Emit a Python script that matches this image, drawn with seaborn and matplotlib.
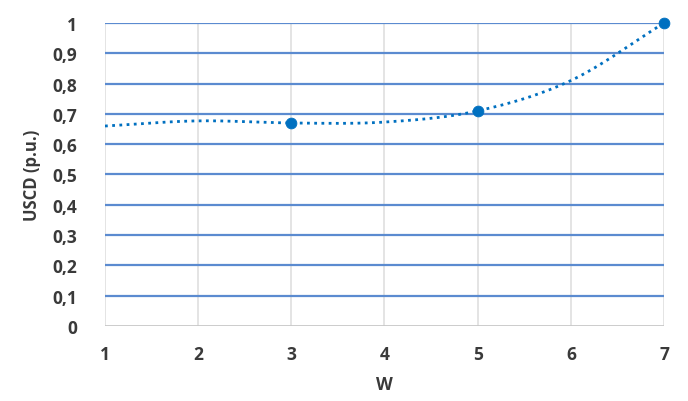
import numpy as np
import pandas as pd
import matplotlib
matplotlib.use("Agg")
import matplotlib.pyplot as plt
from matplotlib.ticker import FuncFormatter
import seaborn as sns

# values (smoothed line through all W, markers at 3, 5, 7)
w_values = [1, 2, 3, 4, 5, 6, 7]
uscd_values = [0.66, 0.677, 0.67, 0.673, 0.71, 0.81, 1.0]
marker_w = [3, 5, 7]
marker_uscd = [0.67, 0.71, 1.0]
y_ticks = [0, 0.1, 0.2, 0.3, 0.4, 0.5, 0.6, 0.7, 0.8, 0.9, 1.0]

LINE_BLUE = "#0070C0"
GRID_BLUE = "#5B8BD0"
TEXT = "#3A3A3A"


def smooth(xs, ys, n=30):
    ''' Catmull-Rom style smoothing like a spreadsheet "smoothed line". '''
    xs = np.asarray(xs, float)
    ys = np.asarray(ys, float)
    px = np.concatenate([[2 * xs[0] - xs[1]], xs, [2 * xs[-1] - xs[-2]]])
    py = np.concatenate([[2 * ys[0] - ys[1]], ys, [2 * ys[-1] - ys[-2]]])
    out_x, out_y = [], []
    for i in range(1, len(px) - 2):
        t = np.linspace(0, 1, n, endpoint=False)
        for arr, p in ((out_x, px), (out_y, py)):
            p0, p1, p2, p3 = p[i - 1], p[i], p[i + 1], p[i + 2]
            arr.extend(0.5 * ((2 * p1) + (-p0 + p2) * t
                              + (2 * p0 - 5 * p1 + 4 * p2 - p3) * t ** 2
                              + (-p0 + 3 * p1 - 3 * p2 + p3) * t ** 3))
    out_x.append(xs[-1])
    out_y.append(ys[-1])
    return np.array(out_x), np.array(out_y)


sns.set_theme(style="white")
plt.rcParams['font.family'] = ['Open Sans', 'DejaVu Sans']

fig = plt.figure(figsize=(6.88, 4.02), dpi=100)
ax = fig.add_axes([0.1526, 0.1866, 0.8125, 0.7537])

sx, sy = smooth(w_values, uscd_values)
curve = pd.DataFrame({"W": sx, "USCD": sy})
pts = pd.DataFrame({"W": marker_w, "USCD": marker_uscd})

# grid: gray verticals, blue horizontals
for xv in w_values:
    ax.axvline(xv, color="#E2E2E2", lw=1.3, zorder=0)
for yv in y_ticks[1:]:
    ax.axhline(yv, color=GRID_BLUE, lw=1.6, zorder=1)
ax.axhline(0, color="#C8C8C8", lw=1.3, zorder=1)

sns.lineplot(data=curve, x="W", y="USCD", ax=ax, color=LINE_BLUE,
             lw=2, linestyle=(0, (1, 1.6)), sort=False, zorder=3)
sns.scatterplot(data=pts, x="W", y="USCD", ax=ax, color=LINE_BLUE,
                s=60, edgecolor=LINE_BLUE, zorder=4, clip_on=False)

ax.set_xlim(1, 7)
ax.set_ylim(0, 1)
ax.set_xticks(w_values)
ax.set_yticks(y_ticks)
ax.yaxis.set_major_formatter(FuncFormatter(
    lambda v, pos: "0" if v == 0 else ("1" if v == 1 else f"{v:.1f}".replace(".", ","))))
for s in ax.spines.values():
    s.set_visible(False)
ax.tick_params(axis="both", length=0, labelsize=12.5, colors=TEXT)
ax.tick_params(axis="x", pad=14)
ax.tick_params(axis="y", pad=20)
for lab in ax.get_xticklabels() + ax.get_yticklabels():
    lab.set_fontweight("bold")

ax.set_xlabel("W", fontsize=12.5, fontweight="bold", color=TEXT, labelpad=8)
ax.set_ylabel("USCD (p.u.)", fontsize=12, fontweight="bold", color=TEXT, labelpad=8)

fig.savefig("out.png", dpi=100)
plt.close(fig)
